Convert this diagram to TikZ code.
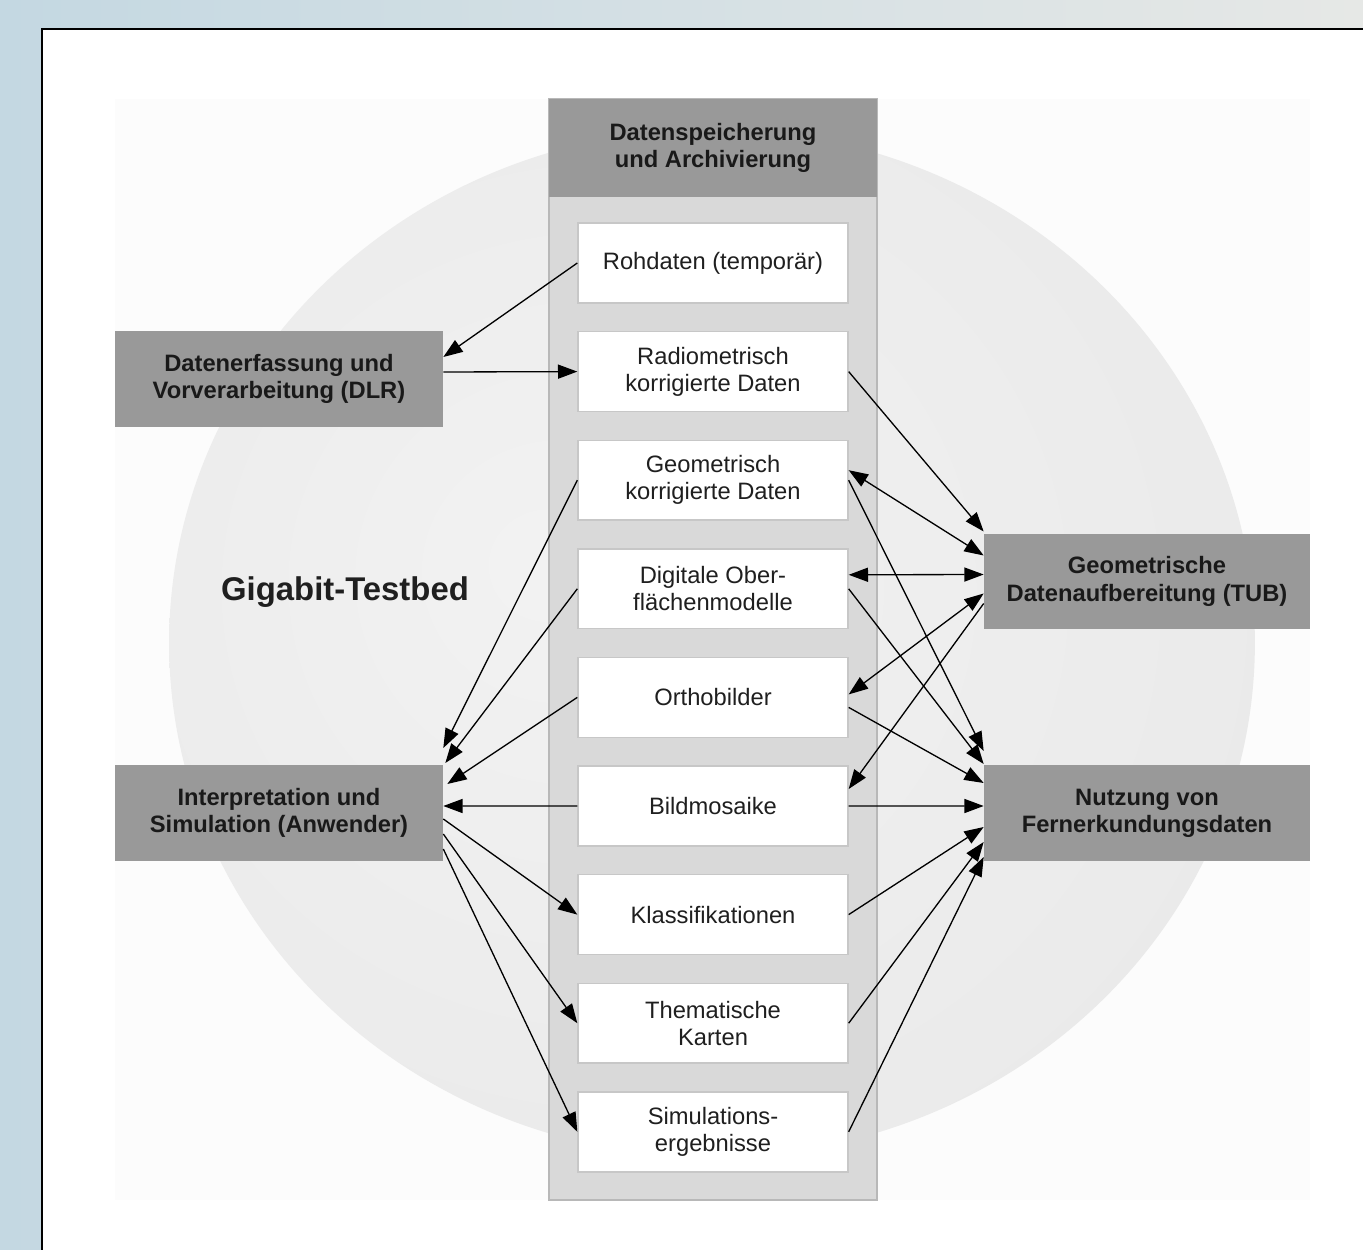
\documentclass[tikz,border=0pt]{standalone}
\usepackage{fontspec}
\setmainfont{Liberation Sans}
\usepackage{tikz}
\usetikzlibrary{calc}
\usetikzlibrary{arrows.meta}
\usetikzlibrary{positioning}
\definecolor{skyleft}{RGB}{196,216,226}
\definecolor{skyright}{RGB}{230,232,230}
\pgfdeclareradialshading{disc}{\pgfpoint{-8bp}{4bp}}{color(0bp)=(black!5); color(28bp)=(black!8); color(50bp)=(black!14)}
\tikzset{store/.style={rectangle,fill=white,draw=black!22,line width=0.8pt,minimum width=5.4cm,minimum height=1.6cm,inner sep=0pt,align=center,text=black!88}}
\tikzset{party/.style={rectangle,fill=black!40,minimum width=6.56cm,minimum height=1.92cm,inner sep=0pt,align=center,font=\bfseries\fontsize{13.5}{15.5}\selectfont,text=black!90}}
\tikzset{link/.style={line width=0.75pt,-{Triangle[length=11pt,width=8pt]}}}
\tikzset{twoway/.style={line width=0.75pt,{Triangle[length=11pt,width=8pt]}-{Triangle[length=11pt,width=8pt]}}}

\begin{document}
\begin{tikzpicture}[x=0.02cm,y=-0.02cm,font=\fontsize{13.5}{15.5}\selectfont]
\useasboundingbox (0,0) rectangle (1363,1250);
% backdrop and panel
\shade[left color=skyleft,right color=skyright] (0,0) rectangle (1363,1250);
\fill[white] (42,29) rectangle (1363,1250);
\draw[line width=1pt] (42,1250) -- (42,29) -- (1363,29);
\fill[black!1] (115,99) rectangle (1310,1200);
\shade[shading=disc] (712,643) ellipse [x radius=10.86cm,y radius=10.28cm];
% storage column
\draw[fill=black!15,draw=black!28,line width=1pt] (549,99) rectangle (877,1200);
\node[party,minimum height=1.96cm] (head) at (713,148) {Datenspeicherung\\und Archivierung};
\foreach \i/\txt in {1/{Rohdaten (temporär)},2/{Radiometrisch\\korrigierte Daten},3/{Geometrisch\\korrigierte Daten},4/{Digitale Ober-\\flächenmodelle},5/{Orthobilder},6/{Bildmosaike},7/{Klassifikationen},8/{Thematische\\Karten},9/{Simulations-\\ergebnisse}} {
	\node[store] (b\i) at (713,{263+108.6*(\i-1)}) {\txt};
}
% partners
\node[party] (dlr) at (279,379) {Datenerfassung und\\Vorverarbeitung (DLR)};
\node[party] (user) at (279,813) {Interpretation und\\Simulation (Anwender)};
\node[party,minimum width=6.52cm,minimum height=1.9cm] (tub) at (1147,581.5) {Geometrische\\Datenaufbereitung (TUB)};
\node[party,minimum width=6.52cm] (use) at (1147,813) {Nutzung von\\Fernerkundungsdaten};
\node[font=\bfseries\fontsize{18.7}{22}\selectfont,text=black!88] (title) at (345,592) {Gigabit-Testbed};
% left side
\draw[link] (b1.west) -- ($(dlr.east)+(0,-22)$);
\draw[link] ($(dlr.east)+(0,-7)$) -- (b2.west);
\draw[link] (b3.west) -- ($(user.east)+(0,-65)$);
\draw[link] (b4.west) -- ($(user.east)+(2,-50)$);
\draw[link] (b5.west) -- ($(user.east)+(4,-29)$);
\draw[link] (b6.west) -- ($(user.east)+(0,-7)$);
\draw[link] ($(user.east)+(0,6)$) -- (b7.west);
\draw[link] ($(user.east)+(0,21)$) -- (b8.west);
\draw[link] ($(user.east)+(0,36)$) -- (b9.west);
% right side
\draw[link] (b2.east) -- ($(tub.west)+(0,-50)$);
\draw[twoway] ($(b3.east)+(0,-10)$) -- ($(tub.west)+(0,-26)$);
\draw[twoway] ($(b4.east)+(0,-14)$) -- ($(tub.west)+(0,-7)$);
\draw[twoway] ($(b5.east)+(0,-3)$) -- ($(tub.west)+(0,12)$);
\draw[link] ($(tub.west)+(0,22)$) -- ($(b6.east)+(0,-17)$);
\draw[link] (b3.east) -- ($(use.west)+(0,-62)$);
\draw[link] (b4.east) -- ($(use.west)+(0,-49)$);
\draw[link] ($(b5.east)+(0,10)$) -- ($(use.west)+(0,-30)$);
\draw[link] (b6.east) -- ($(use.west)+(0,-7)$);
\draw[link] (b7.east) -- ($(use.west)+(0,14)$);
\draw[link] (b8.east) -- ($(use.west)+(0,29)$);
\draw[link] (b9.east) -- ($(use.west)+(0,44)$);
\end{tikzpicture}
\end{document}
